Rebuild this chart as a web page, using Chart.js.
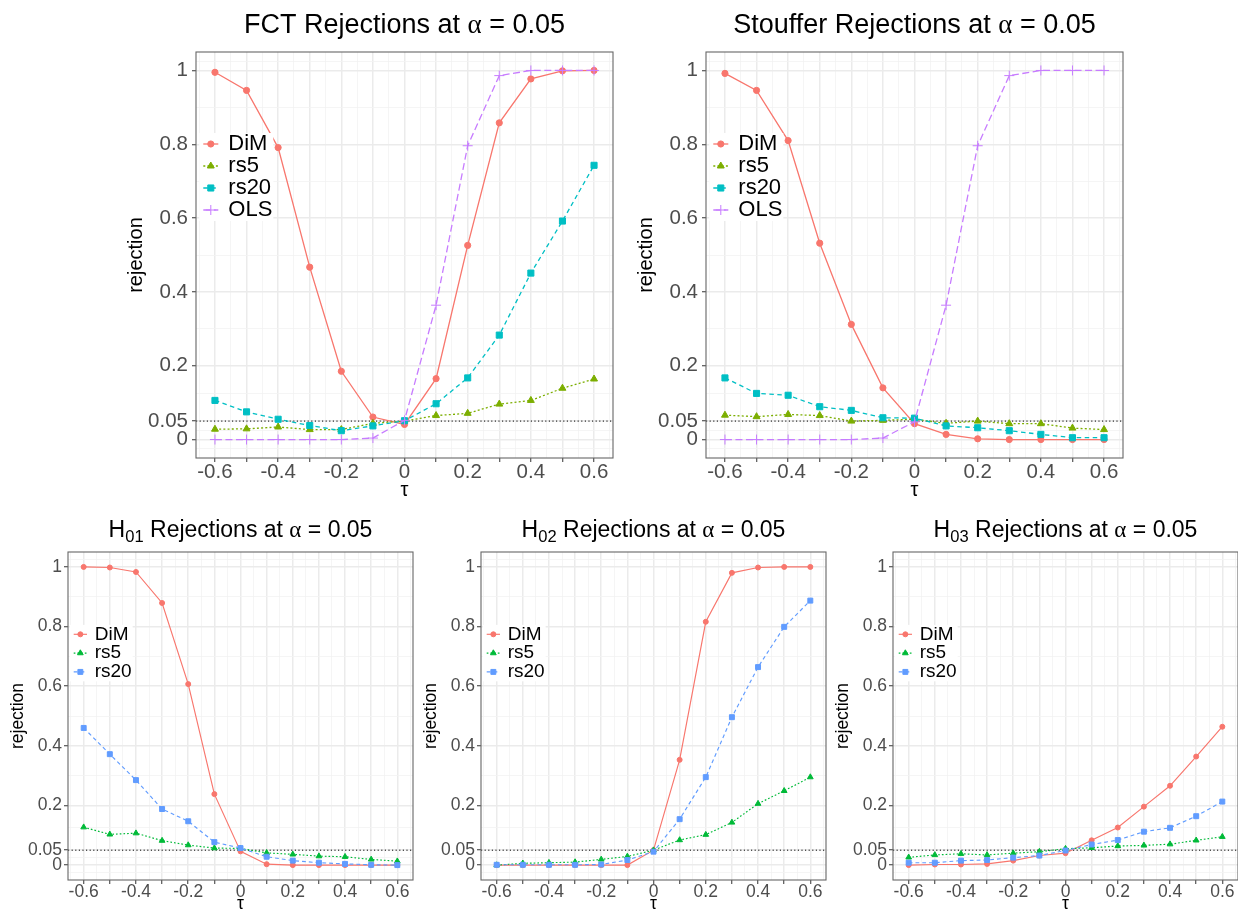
<!DOCTYPE html>
<html><head><meta charset="utf-8">
<script src="https://cdn.jsdelivr.net/npm/chart.js@4.4.1/dist/chart.umd.min.js"></script>
<style>
html,body{margin:0;padding:0;background:#fff;overflow:hidden;width:1238px;height:911px;position:relative}
canvas{position:absolute}
</style></head><body>
<canvas id="c1" width="530" height="510" style="left:100px;top:0px"></canvas>
<canvas id="c2" width="530" height="510" style="left:610px;top:0px"></canvas>
<canvas id="c3" width="420" height="416" style="left:0px;top:500px"></canvas>
<canvas id="c4" width="420" height="416" style="left:413px;top:500px"></canvas>
<canvas id="c5" width="420" height="416" style="left:825px;top:500px"></canvas>
<script>
// ---------- data ----------
const tau = [-0.6,-0.5,-0.4,-0.3,-0.2,-0.1,0,0.1,0.2,0.3,0.4,0.5,0.6];

const fctDiM  = [0.995,0.946,0.791,0.467,0.185,0.061,0.041,0.165,0.526,0.858,0.977,0.999,1.000];
const fctRs5  = [0.028,0.029,0.034,0.027,0.027,0.044,0.050,0.065,0.071,0.096,0.106,0.139,0.164];
const fctRs20 = [0.106,0.075,0.055,0.038,0.024,0.037,0.051,0.097,0.167,0.283,0.451,0.592,0.743];
const fctOLS  = [0,0,0,0,0,0.004,0.052,0.364,0.796,0.986,1,1,1];

const stDiM  = [0.992,0.946,0.810,0.532,0.312,0.140,0.043,0.014,0.002,0,0,0,0];
const stRs5  = [0.066,0.062,0.068,0.065,0.050,0.052,0.055,0.044,0.050,0.043,0.043,0.031,0.027];
const stRs20 = [0.167,0.125,0.120,0.089,0.079,0.059,0.058,0.037,0.032,0.024,0.014,0.005,0.005];
const stOLS  = [0,0,0,0,0,0.004,0.048,0.364,0.796,0.986,1,1,1];

const h1DiM  = [1.000,0.998,0.983,0.879,0.607,0.238,0.046,0.003,0,0,0,0,0];
const h1Rs5  = [0.127,0.103,0.107,0.082,0.067,0.057,0.056,0.041,0.036,0.030,0.028,0.019,0.013];
const h1Rs20 = [0.460,0.372,0.285,0.188,0.147,0.077,0.057,0.028,0.015,0.008,0.004,0.001,0];

const h2DiM  = [0,0,0,0,0,0,0.050,0.353,0.816,0.980,0.998,1,1];
const h2Rs5  = [0,0.006,0.008,0.010,0.019,0.029,0.050,0.084,0.102,0.143,0.206,0.249,0.295];
const h2Rs20 = [0.001,0.001,0.001,0.001,0.002,0.017,0.045,0.154,0.295,0.496,0.664,0.799,0.887];

const h3DiM  = [0,0.002,0.002,0.004,0.015,0.032,0.040,0.083,0.126,0.196,0.266,0.364,0.464];
const h3Rs5  = [0.026,0.034,0.038,0.034,0.040,0.045,0.055,0.058,0.064,0.066,0.070,0.083,0.095];
const h3Rs20 = [0.008,0.008,0.015,0.017,0.025,0.032,0.049,0.069,0.084,0.112,0.125,0.164,0.213];

const namesTop = ['DiM','rs5','rs20','OLS'];
const namesBottom = ['DiM','rs5','rs20'];

const xBreaks = [-0.6,-0.5,-0.4,-0.3,-0.2,-0.1,0,0.1,0.2,0.3,0.4,0.5,0.6];
const xTickLabels = ['-0.6','','-0.4','','-0.2','','0','','0.2','','0.4','','0.6'];
const xMinorBreaks = [-0.65,-0.55,-0.45,-0.35,-0.25,-0.15,-0.05,0.05,0.15,0.25,0.35,0.45,0.55,0.65];
const yBreaks = [0,0.05,0.2,0.4,0.6,0.8,1];
const yTickLabels = ['0','0.05','0.2','0.4','0.6','0.8','1'];
const yMinorBreaks = [-0.025,0.025,0.125,0.3,0.5,0.7,0.9,1.025];
const alphaLevel = 0.05;

const titleFCT = [{t:'FCT Rejections at '},{t:'α',serif:true},{t:' = 0.05'}];
const titleST  = [{t:'Stouffer Rejections at '},{t:'α',serif:true},{t:' = 0.05'}];
const titleH01 = [{t:'H'},{t:'01',sub:true},{t:' Rejections at '},{t:'α',serif:true},{t:' = 0.05'}];
const titleH02 = [{t:'H'},{t:'02',sub:true},{t:' Rejections at '},{t:'α',serif:true},{t:' = 0.05'}];
const titleH03 = [{t:'H'},{t:'03',sub:true},{t:' Rejections at '},{t:'α',serif:true},{t:' = 0.05'}];

// ---------- styles ----------
const fontSans = "'Liberation Sans', Arial, sans-serif";
const fontSerif = "'Liberation Serif', 'Times New Roman', serif";
const colorsTop = ['#F8766D','#7CAE00','#00BFC4','#C77CFF'];
const colorsBottom = ['#F8766D','#00BA38','#619CFF'];
const pointStyles = ['circle','triangle','rect','cross'];

const styleTop = {
  yW:96, xH:52, padTop:52, padRight:17,
  tick:20.5, tickLH:1, xTickPad:0.5, yTickPad:4, tickLen:4,
  axisTitle:20, yTitlePad:24, xTitlePad:7.5,
  titleSize:27, titleDy:-18.7,
  lineW:1.3, dashes:[[],[2,2.2],[4.5,3.5],[7,3.5]],
  pointR:{circle:3.1,triangle:4,rect:4.3,cross:5},
  legend:{size:22, keyL:7.3, keyR:22.3, textX:32.3, row0:92, gap:22, pad:4}
};
const styleBottom = {
  yW:68, xH:36, padTop:52, padRight:7,
  tick:17.5, tickLH:0.9, xTickPad:0, yTickPad:2, tickLen:4,
  axisTitle:17.5, yTitlePad:8, xTitlePad:1.3,
  titleSize:23, titleDy:-15,
  lineW:1.15, dashes:[[],[1.7,2],[3.8,3]],
  pointR:{circle:2.5,triangle:3.3,rect:3.5,cross:4},
  legend:{size:19, keyL:5.7, keyR:19, textX:26.7, row0:82.3, gap:18.8, pad:4}
};

Chart.defaults.font.family = fontSans;

function near(arr, v){ return arr.some(a => Math.abs(a - v) < 1e-9); }
function labelOf(breaks, labels, v){
  const i = breaks.findIndex(b => Math.abs(b - v) < 1e-9);
  return i < 0 ? '' : labels[i];
}

const panelPlugin = {
  id: 'panel',
  beforeDatasetsDraw(chart, args, o){
    const {ctx, chartArea:a} = chart;
    const py = chart.scales.y.getPixelForValue(alphaLevel);
    ctx.save();
    ctx.setLineDash([1.2,2.4]); ctx.lineWidth = 1; ctx.strokeStyle = '#000';
    ctx.beginPath(); ctx.moveTo(a.left, py); ctx.lineTo(a.right, py); ctx.stroke();
    ctx.restore();
  },
  afterDatasetsDraw(chart, args, o){
    const {ctx, chartArea:a} = chart; const st = o.st, L = st.legend;
    ctx.save();
    ctx.font = L.size + 'px ' + fontSans;
    const maxW = Math.max(...o.names.map(n => ctx.measureText(n).width));
    const x0 = a.left + L.keyL, x1 = a.left + L.keyR, tx = a.left + L.textX;
    const yc = i => a.top + L.row0 + i * L.gap;
    ctx.fillStyle = '#fff';
    ctx.fillRect(x0 - L.pad, yc(0) - L.gap/2, tx + maxW + 1 - (x0 - L.pad), o.names.length * L.gap);
    o.names.forEach((n, i) => {
      const y = yc(i);
      ctx.strokeStyle = o.colors[i]; ctx.lineWidth = st.lineW; ctx.setLineDash(st.dashes[i]);
      ctx.beginPath(); ctx.moveTo(x0, y); ctx.lineTo(x1, y); ctx.stroke();
      ctx.setLineDash([]);
      ctx.fillStyle = o.colors[i]; ctx.lineWidth = 1;
      Chart.helpers.drawPoint(ctx, {pointStyle: pointStyles[i], radius: st.pointR[pointStyles[i]], borderWidth: 1, rotation: 0}, (x0 + x1)/2, y);
      ctx.fillStyle = '#000'; ctx.textBaseline = 'middle'; ctx.textAlign = 'left';
      ctx.font = L.size + 'px ' + fontSans;
      ctx.fillText(n, tx, y);
    });
    ctx.setLineDash([]); ctx.strokeStyle = '#666666'; ctx.lineWidth = 1.1;
    ctx.strokeRect(a.left, a.top, a.right - a.left, a.bottom - a.top);
    ctx.restore();
  },
  afterDraw(chart, args, o){
    const {ctx, chartArea:a} = chart; const st = o.st, S = st.titleSize;
    ctx.save(); ctx.fillStyle = '#000'; ctx.textBaseline = 'alphabetic'; ctx.textAlign = 'left';
    const fontFor = s => (s.sub ? S*0.72 : S) + 'px ' + (s.serif ? fontSerif : fontSans);
    let w = 0;
    o.titleSegs.forEach(s => { ctx.font = fontFor(s); w += ctx.measureText(s.t).width; });
    let x = (a.left + a.right)/2 - w/2; const y = a.top + st.titleDy;
    o.titleSegs.forEach(s => {
      ctx.font = fontFor(s);
      ctx.fillText(s.t, x, y + (s.sub ? S*0.22 : 0));
      x += ctx.measureText(s.t).width;
    });
    ctx.restore();
  }
};

function makePanel(id, titleSegs, names, values, colors, st){
  const datasets = names.map((n, k) => ({
    label: n,
    data: tau.map((t, i) => ({x: t, y: values[k][i]})),
    borderColor: colors[k], backgroundColor: colors[k],
    borderWidth: st.lineW, borderDash: st.dashes[k],
    pointStyle: pointStyles[k], pointRadius: st.pointR[pointStyles[k]],
    pointBorderWidth: 1, pointHoverRadius: st.pointR[pointStyles[k]],
    tension: 0, fill: false, order: names.length - k
  }));
  const majorC = '#EBEBEB', minorC = '#F3F3F3';
  const gridCommon = (majors, marks) => ({
    color: c => (c.tick && near(majors, c.tick.value)) ? majorC : minorC,
    lineWidth: c => (c.tick && near(majors, c.tick.value)) ? 1.5 : 0.8,
    drawTicks: true, tickLength: st.tickLen,
    tickColor: c => (c.tick && near(marks, c.tick.value)) ? '#333333' : 'rgba(0,0,0,0)',
    tickWidth: 1
  });
  new Chart(document.getElementById(id), {
    type: 'line',
    data: {datasets},
    options: {
      responsive: false, animation: false, events: [],
      layout: {padding: {top: st.padTop, right: st.padRight, left: 0, bottom: 0}},
      plugins: {
        legend: {display: false}, tooltip: {enabled: false}, title: {display: false},
        panel: {titleSegs, names, colors, st}
      },
      scales: {
        x: {
          type: 'linear', min: -0.66, max: 0.66,
          afterBuildTicks: s => { s.ticks = xBreaks.concat(xMinorBreaks).sort((p,q)=>p-q).map(v => ({value: v})); },
          afterFit: s => { s.height = st.xH; },
          ticks: {autoSkip: false, maxRotation: 0, minRotation: 0, padding: st.xTickPad, color: '#4D4D4D',
                  font: {size: st.tick, lineHeight: st.tickLH},
                  callback: v => labelOf(xBreaks, xTickLabels, v)},
          grid: gridCommon(xBreaks, xBreaks),
          border: {display: false},
          title: {display: true, text: 'τ', color: '#000', font: {size: st.axisTitle}, padding: {top: 0, bottom: st.xTitlePad}}
        },
        y: {
          type: 'linear', min: -0.05, max: 1.05,
          afterBuildTicks: s => { s.ticks = yBreaks.concat(yMinorBreaks).sort((p,q)=>p-q).map(v => ({value: v})); },
          afterFit: s => { s.width = st.yW; },
          ticks: {autoSkip: false, padding: st.yTickPad, color: '#4D4D4D',
                  font: {size: st.tick, lineHeight: 1},
                  callback: v => labelOf(yBreaks, yTickLabels, v)},
          grid: gridCommon(yBreaks, yBreaks),
          border: {display: false},
          title: {display: true, text: 'rejection', color: '#000', font: {size: st.axisTitle}, padding: {top: st.yTitlePad, bottom: 0}}
        }
      }
    },
    plugins: [panelPlugin]
  });
}

makePanel('c1', titleFCT, namesTop, [fctDiM, fctRs5, fctRs20, fctOLS], colorsTop, styleTop);
makePanel('c2', titleST, namesTop, [stDiM, stRs5, stRs20, stOLS], colorsTop, styleTop);
makePanel('c3', titleH01, namesBottom, [h1DiM, h1Rs5, h1Rs20], colorsBottom, styleBottom);
makePanel('c4', titleH02, namesBottom, [h2DiM, h2Rs5, h2Rs20], colorsBottom, styleBottom);
makePanel('c5', titleH03, namesBottom, [h3DiM, h3Rs5, h3Rs20], colorsBottom, styleBottom);
</script>
</body></html>
